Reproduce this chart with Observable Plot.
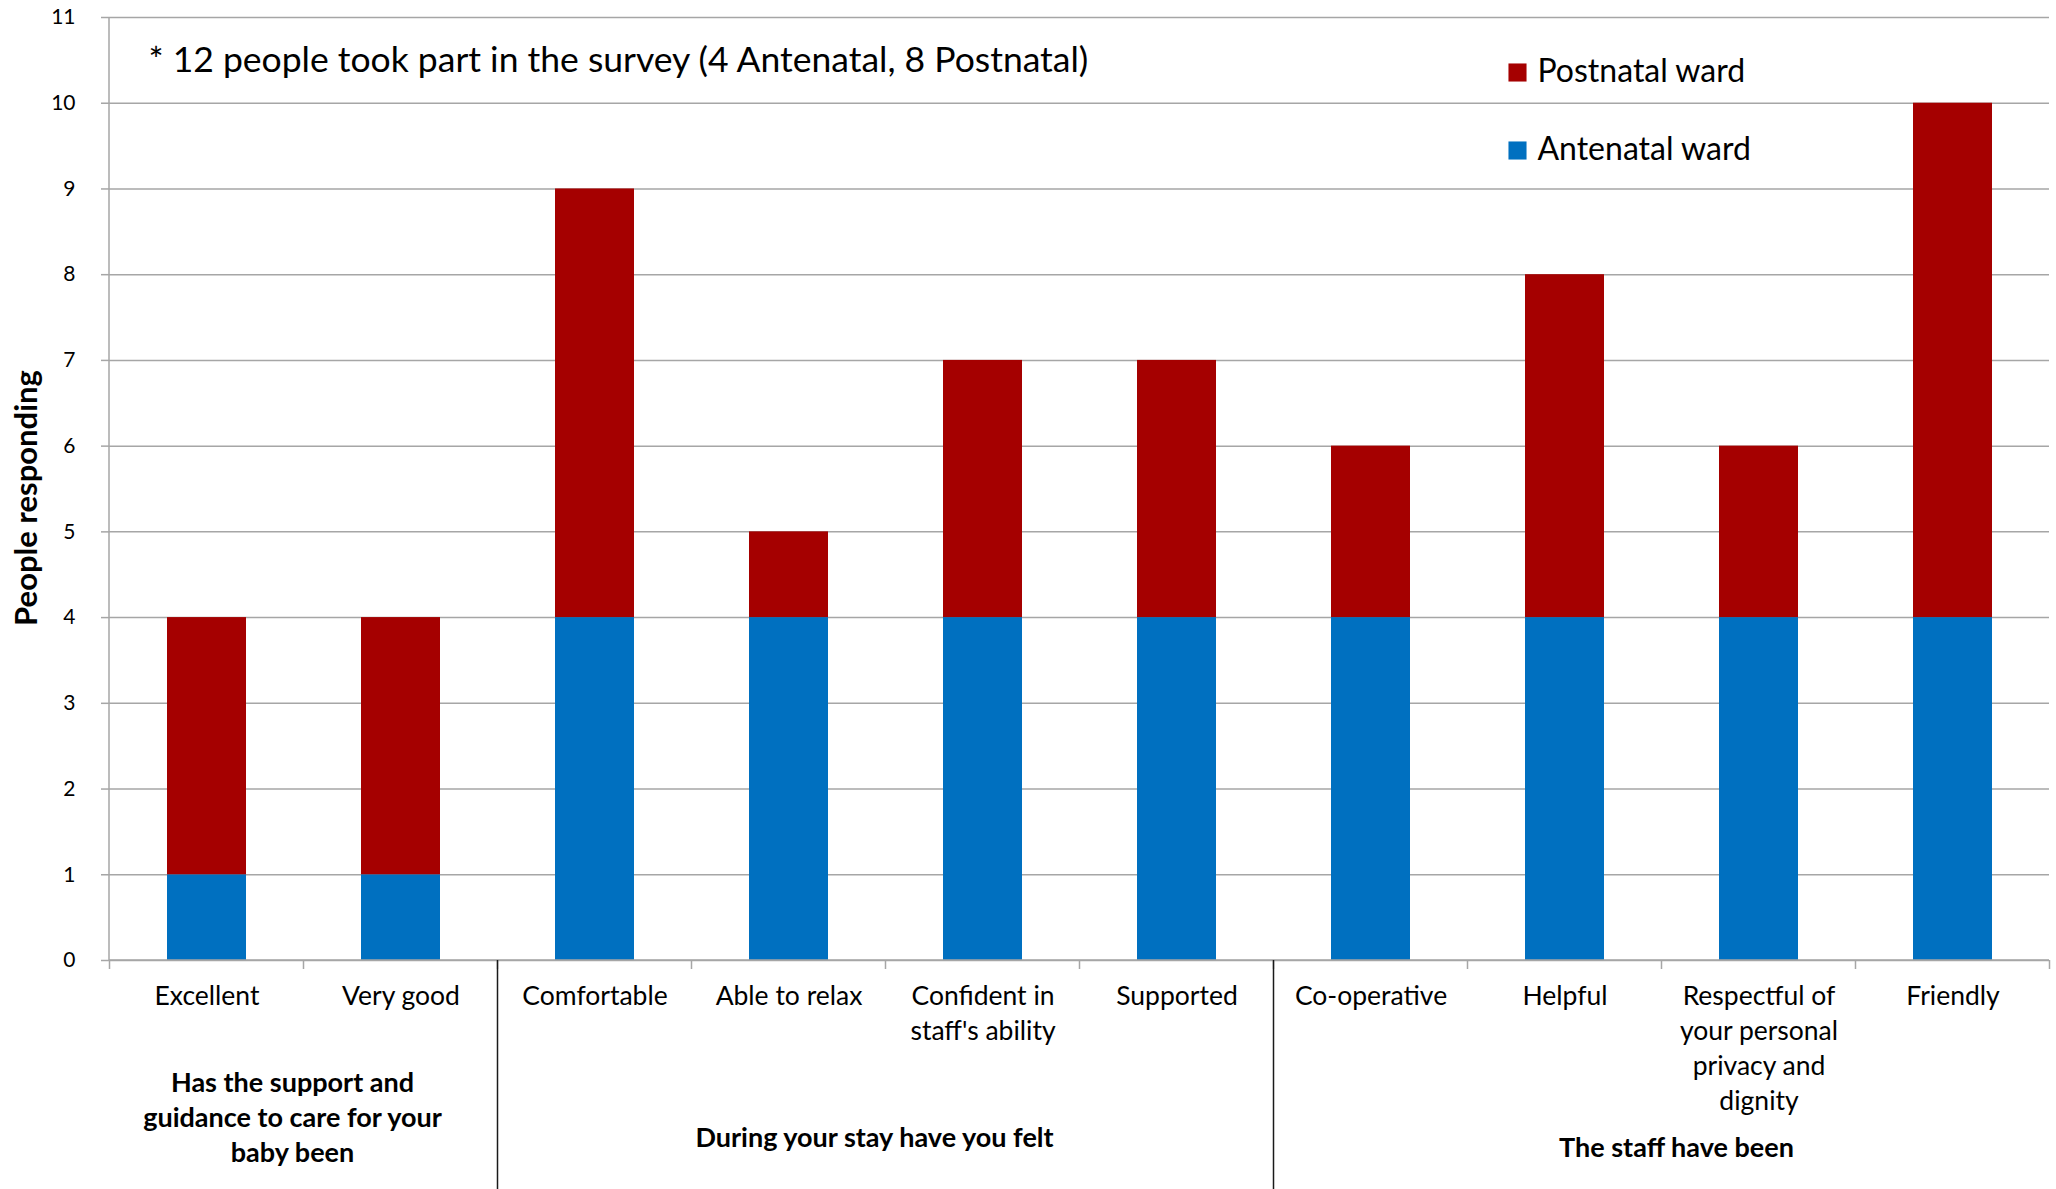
<!DOCTYPE html>
<html>
<head>
<meta charset="utf-8">
<script src="https://cdn.jsdelivr.net/npm/d3@7"></script>
<script src="https://cdn.jsdelivr.net/npm/@observablehq/plot@0.6"></script>
<style>
  html, body { margin: 0; padding: 0; background: #fff; }
  #chart svg { display: block; }
</style>
</head>
<body>
<div id="chart"></div>
<script>
// Survey answers per question, stacked by ward
const categories = [
  "Excellent", "Very good",
  "Comfortable", "Able to relax", "Confident in staff's ability", "Supported",
  "Co-operative", "Helpful", "Respectful of your personal privacy and dignity", "Friendly"
];
const categoryLabels = [
  "Excellent", "Very good",
  "Comfortable", "Able to relax", "Confident in\nstaff's ability", "Supported",
  "Co-operative", "Helpful", "Respectful of\nyour personal\nprivacy and\ndignity", "Friendly"
];
const antenatal = [1, 1, 4, 4, 4, 4, 4, 4, 4, 4];
const postnatal = [3, 3, 5, 1, 3, 3, 2, 4, 2, 6];

const wards = ["Antenatal ward", "Postnatal ward"];
const wardColors = ["#0070C0", "#A50000"];
const legendOrder = ["Postnatal ward", "Antenatal ward"];

const groupLabels = [
  "Has the support and\nguidance to care for your\nbaby been",
  "During your stay have you felt",
  "The staff have been"
];
const groupStart = [0, 2, 6];
const groupEnd = [1, 5, 9];

const yTicks = [0, 1, 2, 3, 4, 5, 6, 7, 8, 9, 10, 11];
const yTitle = "People responding";
const note = "* 12 people took part in the survey (4 Antenatal, 8 Postnatal)";

// layout constants
const FONT = "Lato, 'Noto Sans', sans-serif";
const GRID = "#a6a6a6";
const groupDx = [-11, -11, 15];
const groupBaseline = [132, 187, 197];
const groupLineHeight = 35;

const rows = [
  ...categories.map((c, i) => ({category: c, ward: wards[0], value: antenatal[i]})),
  ...categories.map((c, i) => ({category: c, ward: wards[1], value: postnatal[i]}))
];
const labelOf = new Map(categories.map((c, i) => [c, categoryLabels[i]]));

// Axis lines, band boundary ticks, group separators and group captions
function categoryFrame(index, {x}, values, dims) {
  const {width, height, marginLeft, marginRight, marginTop, marginBottom} = dims;
  const y0 = height - marginBottom;
  const step = x.step();
  const off = (step - x.bandwidth()) / 2;
  const edge = c => x(c) - off;
  const bounds = categories.map(edge).concat([edge(categories[categories.length - 1]) + step]);
  const g = d3.create("svg:g");
  g.append("line")
    .attr("x1", marginLeft).attr("x2", marginLeft)
    .attr("y1", marginTop).attr("y2", y0)
    .attr("stroke", GRID).attr("stroke-width", 1.5);
  g.append("line")
    .attr("x1", marginLeft).attr("x2", width - marginRight)
    .attr("y1", y0).attr("y2", y0)
    .attr("stroke", GRID).attr("stroke-width", 1.5);
  g.selectAll("line.bt").data(bounds).join("line").attr("class", "bt")
    .attr("x1", d => d).attr("x2", d => d)
    .attr("y1", y0).attr("y2", y0 + 9)
    .attr("stroke", GRID).attr("stroke-width", 1.5);
  g.selectAll("line.sep").data(groupStart.slice(1)).join("line").attr("class", "sep")
    .attr("x1", i => edge(categories[i])).attr("x2", i => edge(categories[i]))
    .attr("y1", y0).attr("y2", height)
    .attr("stroke", "#1a1a1a").attr("stroke-width", 1.5);
  groupLabels.forEach((label, k) => {
    const cx = (edge(categories[groupStart[k]]) + edge(categories[groupEnd[k]]) + step) / 2 + groupDx[k];
    const t = g.append("text")
      .attr("text-anchor", "middle")
      .attr("font-family", FONT)
      .attr("font-size", 27)
      .attr("font-weight", "bold")
      .attr("fill", "#000");
    label.split("\n").forEach((line, j) => {
      t.append("tspan").attr("x", cx).attr("y", y0 + groupBaseline[k] + j * groupLineHeight).text(line);
    });
  });
  return g.node();
}

const legendMarks = legendOrder.flatMap((w, i) => [
  Plot.dot([w], {
    frameAnchor: "top-left", dx: 1408, dy: 55 + i * 78,
    symbol: "square", r: 10.2, fill: wardColors[wards.indexOf(w)], stroke: null
  }),
  Plot.text([w], {
    frameAnchor: "top-left", dx: 1428, dy: 54 + i * 78,
    text: d => d, textAnchor: "start", lineAnchor: "middle", fontSize: 32, fill: "#000"
  })
]);

const chart = Plot.plot({
  width: 2056,
  height: 1189,
  marginLeft: 109,
  marginRight: 7,
  marginTop: 17,
  marginBottom: 229,
  style: {fontFamily: FONT, background: "#fff", color: "#000"},
  x: {domain: categories, paddingInner: 0.595, paddingOuter: 0.2975, axis: null},
  y: {domain: [0, 11], axis: null},
  color: {domain: wards, range: wardColors},
  marks: [
    Plot.gridY(yTicks, {stroke: GRID, strokeOpacity: 1, strokeWidth: 1.5}),
    Plot.barY(rows, Plot.stackY({x: "category", y: "value", fill: "ward"})),
    Plot.axisY(yTicks, {
      tickSize: 8, tickPadding: 26, fontSize: 21, stroke: GRID, strokeWidth: 1.5,
      fill: "#000", label: null, tickFormat: d => String(d)
    }),
    Plot.axisX({
      tickSize: 0, tickPadding: 20, fontSize: 26.5, lineHeight: 1.32,
      fill: "#000", label: null, tickFormat: d => labelOf.get(d)
    }),
    categoryFrame,
    Plot.text([yTitle], {
      frameAnchor: "left", dx: -82, dy: 9, rotate: -90,
      textAnchor: "middle", lineAnchor: "middle",
      text: d => d, fontSize: 31, fontWeight: "bold", fill: "#000"
    }),
    Plot.text([note], {
      frameAnchor: "top-left", dx: 39, dy: 43,
      text: d => d, textAnchor: "start", lineAnchor: "middle", fontSize: 35.5, fill: "#000"
    }),
    ...legendMarks
  ]
});

document.getElementById("chart").append(chart);
</script>
</body>
</html>
